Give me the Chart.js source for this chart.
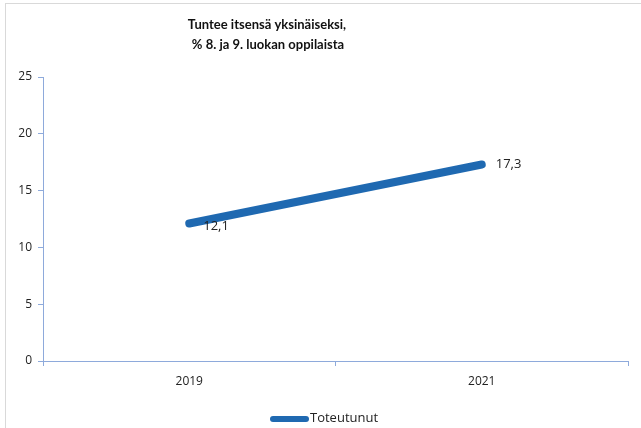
<!DOCTYPE html>
<html>
<head>
<meta charset="utf-8">
<script src="https://cdn.jsdelivr.net/npm/chart.js@4"></script>
<style>
    html, body { margin: 0; padding: 0; background: #fff; }
    #frame { position: absolute; left: 5px; top: 3px; width: 640px; height: 430px;
             border-left: 1px solid #d9d9d9; border-top: 1px solid #d9d9d9; }
    #wrap { position: absolute; left: 0; top: 0; width: 641px; height: 428px; }
</style>
</head>
<body>
<div id="frame"></div>
<div id="wrap"><canvas id="chart" width="641" height="428"></canvas></div>
<script>
// Data
const years = ['2019', '2021'];
const toteutunut = [12.1, 17.3];
const yTicks = [0, 5, 10, 15, 20, 25];
const titleLines = ['Tuntee itsensä yksinäiseksi,', '% 8. ja 9. luokan oppilaista'];

const axisColor = '#8eaadb';
const lineColor = '#1f69b1';

// Title, drawn by hand so it can sit left of centre like the original
const titleText = {
    id: 'titleText',
    afterDraw(chart) {
        const ctx = chart.ctx;
        ctx.save();
        ctx.font = 'bold 13px Lato, sans-serif';
        ctx.fillStyle = '#111';
        ctx.textAlign = 'center';
        ctx.textBaseline = 'middle';
        ctx.fillText(titleLines[0], 267, 25);
        ctx.fillText(titleLines[1], 268, 45);
        ctx.restore();
    }
};

// Legend below the axis: short thick line + label
const bottomLegend = {
    id: 'bottomLegend',
    afterDraw(chart) {
        const ctx = chart.ctx;
        const ds = chart.data.datasets[0];
        ctx.save();
        ctx.strokeStyle = ds.borderColor;
        ctx.lineWidth = 6;
        ctx.lineCap = 'round';
        ctx.beginPath();
        ctx.moveTo(273, 419);
        ctx.lineTo(306, 419);
        ctx.stroke();
        ctx.font = '13px "Open Sans", sans-serif';
        ctx.fillStyle = '#222';
        ctx.textAlign = 'left';
        ctx.textBaseline = 'middle';
        ctx.fillText(ds.label, 310, 418);
        ctx.restore();
    }
};

// Data labels on the right of each point
const pointLabels = {
    id: 'pointLabels',
    afterDatasetsDraw(chart) {
        const ctx = chart.ctx;
        const meta = chart.getDatasetMeta(0);
        ctx.save();
        ctx.font = '13px "Open Sans", sans-serif';
        ctx.fillStyle = '#222';
        ctx.textAlign = 'left';
        ctx.textBaseline = 'middle';
        meta.data.forEach((pt, i) => {
            const txt = String(toteutunut[i]).replace('.', ',');
            const dy = i === 0 ? 3 : 0;
            ctx.fillText(txt, pt.x + 14, pt.y + dy);
        });
        ctx.restore();
    }
};

new Chart(document.getElementById('chart'), {
    type: 'line',
    data: {
        labels: years,
        datasets: [{
            label: 'Toteutunut',
            data: toteutunut,
            borderColor: lineColor,
            backgroundColor: lineColor,
            borderWidth: 8,
            borderCapStyle: 'round',
            pointRadius: 0,
            tension: 0
        }]
    },
    options: {
        responsive: false,
        animation: false,
        layout: { padding: { left: 0, right: 13, top: 77, bottom: 0 } },
        scales: {
            x: {
                offset: true,
                afterFit(scale) { scale.height = 67; },
                grid: { display: true, drawOnChartArea: false, drawTicks: true, tickLength: 5, color: axisColor, offset: true },
                border: { display: true, color: axisColor, width: 1 },
                ticks: { color: '#222', font: { family: 'Open Sans', size: 12 }, padding: 8 }
            },
            y: {
                min: 0,
                max: 25,
                afterBuildTicks(scale) { scale.ticks = yTicks.map(v => ({ value: v })); },
                afterFit(scale) { scale.width = 43; },
                grid: { display: true, drawOnChartArea: false, drawTicks: true, tickLength: 5, color: axisColor },
                border: { display: true, color: axisColor, width: 1 },
                ticks: { color: '#222', font: { family: 'Open Sans', size: 12 }, padding: 6 }
            }
        },
        plugins: {
            title: { display: false },
            legend: { display: false },
            tooltip: { enabled: false }
        }
    },
    plugins: [pointLabels, titleText, bottomLegend]
});
</script>
</body>
</html>
